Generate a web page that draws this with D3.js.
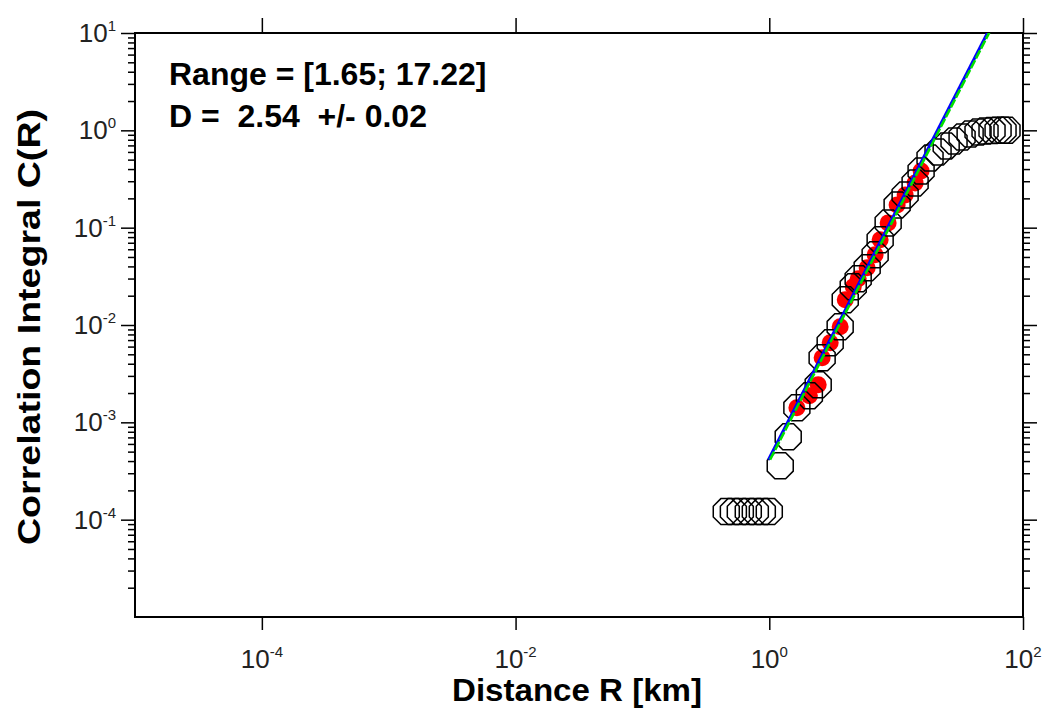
<!DOCTYPE html>
<html>
<head>
<meta charset="utf-8">
<script src="https://cdn.jsdelivr.net/npm/d3@7"></script>
<style>
  html, body { margin: 0; padding: 0; background: #fff; }
  svg { display: block; }
  text { font-family: "Liberation Sans", Arial, Helvetica, sans-serif; }
</style>
</head>
<body>
<svg id="chart" width="1050" height="714"></svg>
<script>
// ---------------- data ----------------
const distanceR = [0.458, 0.521, 0.591, 0.683, 0.776, 0.881, 1.0,
  1.22, 1.41, 1.65, 2.07, 2.43, 2.61, 3.02, 3.62, 3.97, 4.59, 5.02, 5.91, 6.83,
  7.48, 8.65, 10.18, 11.77, 14.11, 15.73,
  18.5, 21.4, 24.8, 28.6, 33.1, 38.3, 44.2, 50.2, 57.0, 63.6, 69.6, 74.8];
const correlationC = [1.21e-4, 1.21e-4, 1.21e-4, 1.21e-4, 1.21e-4, 1.21e-4, 1.21e-4,
  3.58e-4, 7.11e-4, 1.41e-3, 1.88e-3, 2.43e-3, 4.60e-3, 6.56e-3, 9.59e-3, 1.82e-2,
  2.47e-2, 2.98e-2, 3.87e-2, 5.26e-2, 7.50e-2, 0.112, 0.171, 0.217, 0.288, 0.383,
  0.521, 0.600, 0.692, 0.778, 0.855, 0.918, 0.964, 0.986, 0.995, 1.0, 1.0, 1.0];
const fitRange = [1.65, 17.22];
const fitD = 2.54;
const fitErr = 0.02;
const fitLogIntercept = -3.384;   // log10 C at R = 1
const fitLineR = [1.0, 100];
const xTickValues = [1e-4, 1e-2, 1e0, 1e2];
const xTickExponents = ["-4", "-2", "0", "2"];
const yTickValues = [1e-4, 1e-3, 1e-2, 1e-1, 1e0, 1e1];
const yTickExponents = ["-4", "-3", "-2", "-1", "0", "1"];
const xAxisTitle = "Distance R [km]";
const yAxisTitle = "Correlation Integral C(R)";

// ---------------- layout ----------------
const L = 135, R = 1023, T = 33, B = 617;
const svg = d3.select("#chart");
const x = d3.scaleLog().domain([1e-5, 1e2]).range([L, R]);
const y = d3.scaleLog().domain([1e-5, 1e1]).range([B, T]);

const yMinor = [];
for (let k = -5; k <= 0; k++) for (let m = 2; m <= 9; m++) yMinor.push(m * Math.pow(10, k));

function styleAxis(g) {
  g.select(".domain").remove();
  g.selectAll(".tick line").attr("stroke", "#000").attr("stroke-width", 1.5);
  g.selectAll(".tick text").remove();
}

svg.append("g").attr("transform", `translate(${L},0)`)
  .call(d3.axisLeft(y).tickValues(yMinor).tickSize(7).tickFormat("")).call(styleAxis);
svg.append("g").attr("transform", `translate(${L},0)`)
  .call(d3.axisLeft(y).tickValues(yTickValues).tickSize(14).tickFormat("")).call(styleAxis);
svg.append("g").attr("transform", `translate(${R},0)`)
  .call(d3.axisRight(y).tickValues(yMinor).tickSize(7).tickFormat("")).call(styleAxis);
svg.append("g").attr("transform", `translate(${R},0)`)
  .call(d3.axisRight(y).tickValues(yTickValues).tickSize(14).tickFormat("")).call(styleAxis);
svg.append("g").attr("transform", `translate(0,${B})`)
  .call(d3.axisBottom(x).tickValues(xTickValues).tickSize(13).tickFormat("")).call(styleAxis);
svg.append("g").attr("transform", `translate(0,${T})`)
  .call(d3.axisTop(x).tickValues(xTickValues).tickSize(15).tickFormat("")).call(styleAxis);

svg.append("rect").attr("x", L).attr("y", T).attr("width", R - L).attr("height", B - T)
  .attr("fill", "none").attr("stroke", "#000").attr("stroke-width", 2);

const yl = svg.append("g");
yTickValues.forEach((v, i) => {
  const t = yl.append("text").attr("x", 116).attr("y", y(v) + 9)
    .attr("text-anchor", "end").attr("fill", "#222").attr("font-size", 26);
  t.append("tspan").text("10");
  t.append("tspan").attr("dy", -11).attr("font-size", 15).text(yTickExponents[i]);
});
const xl = svg.append("g");
xTickValues.forEach((v, i) => {
  const t = xl.append("text").attr("x", x(v)).attr("y", 668)
    .attr("text-anchor", "middle").attr("fill", "#222").attr("font-size", 26);
  t.append("tspan").text("10");
  t.append("tspan").attr("dy", -11).attr("font-size", 15).text(xTickExponents[i]);
});

svg.append("text").attr("x", 452).attr("y", 701)
  .attr("font-weight", "bold").attr("font-size", 32).attr("fill", "#000")
  .attr("textLength", 250).attr("lengthAdjust", "spacingAndGlyphs").text(xAxisTitle);
svg.append("text").attr("transform", `translate(40,545) rotate(-90)`)
  .attr("font-weight", "bold").attr("font-size", 31)
  .attr("textLength", 436).attr("lengthAdjust", "spacingAndGlyphs")
  .attr("fill", "#000").text(yAxisTitle);

svg.append("clipPath").attr("id", "plotclip").append("rect")
  .attr("x", L).attr("y", T).attr("width", R - L).attr("height", B - T);

const pts = distanceR.map((r, i) => ({ r, c: correlationC[i] }));
const inFit = pts.filter(d => d.r >= fitRange[0] - 1e-9 && d.r <= fitRange[1]);

const octagon = {
  draw(ctx, size) {
    const a = Math.sqrt(size) / 2;
    const rv = a / Math.cos(Math.PI / 8);
    for (let k = 0; k < 8; k++) {
      const ang = Math.PI / 8 + k * Math.PI / 4;
      const px = rv * Math.cos(ang), py = rv * Math.sin(ang);
      if (k === 0) ctx.moveTo(px, py); else ctx.lineTo(px, py);
    }
    ctx.closePath();
  }
};
const plot = svg.append("g").attr("clip-path", "url(#plotclip)");

plot.append("g").selectAll("circle").data(inFit).join("circle")
  .attr("cx", d => x(d.r)).attr("cy", d => y(d.c)).attr("r", 8.5).attr("fill", "#ff0000");

plot.append("g").selectAll("path").data(pts).join("path")
  .attr("transform", d => `translate(${x(d.r)},${y(d.c)})`)
  .attr("d", d3.symbol().type(octagon).size(26 * 26))
  .attr("fill", "none").attr("stroke", "#000").attr("stroke-width", 1.5);

const fitPts = fitLineR.map(r => ({ r, c: Math.pow(10, fitLogIntercept + fitD * Math.log10(r)) }));
const line = d3.line().x(d => x(d.r)).y(d => y(d.c));
plot.append("path").datum(fitPts).attr("d", line).attr("fill", "none")
  .attr("stroke", "#0000ff").attr("stroke-width", 3).attr("transform", "translate(-0.8,0)");
plot.append("path").datum(fitPts).attr("d", line).attr("fill", "none")
  .attr("stroke", "#00e000").attr("stroke-width", 2.6).attr("stroke-dasharray", "9,2")
  .attr("transform", "translate(0.8,0)");

svg.append("text").attr("x", 169).attr("y", 85).attr("font-weight", "bold").attr("font-size", 32)
  .attr("fill", "#000").text(`Range = [${fitRange[0].toFixed(2)}; ${fitRange[1].toFixed(2)}]`);
svg.append("text").attr("x", 169).attr("y", 127).attr("font-weight", "bold").attr("font-size", 32)
  .attr("fill", "#000").style("white-space", "pre")
  .text(`D =  ${fitD.toFixed(2)}  +/- ${fitErr.toFixed(2)}`);
</script>
</body>
</html>
